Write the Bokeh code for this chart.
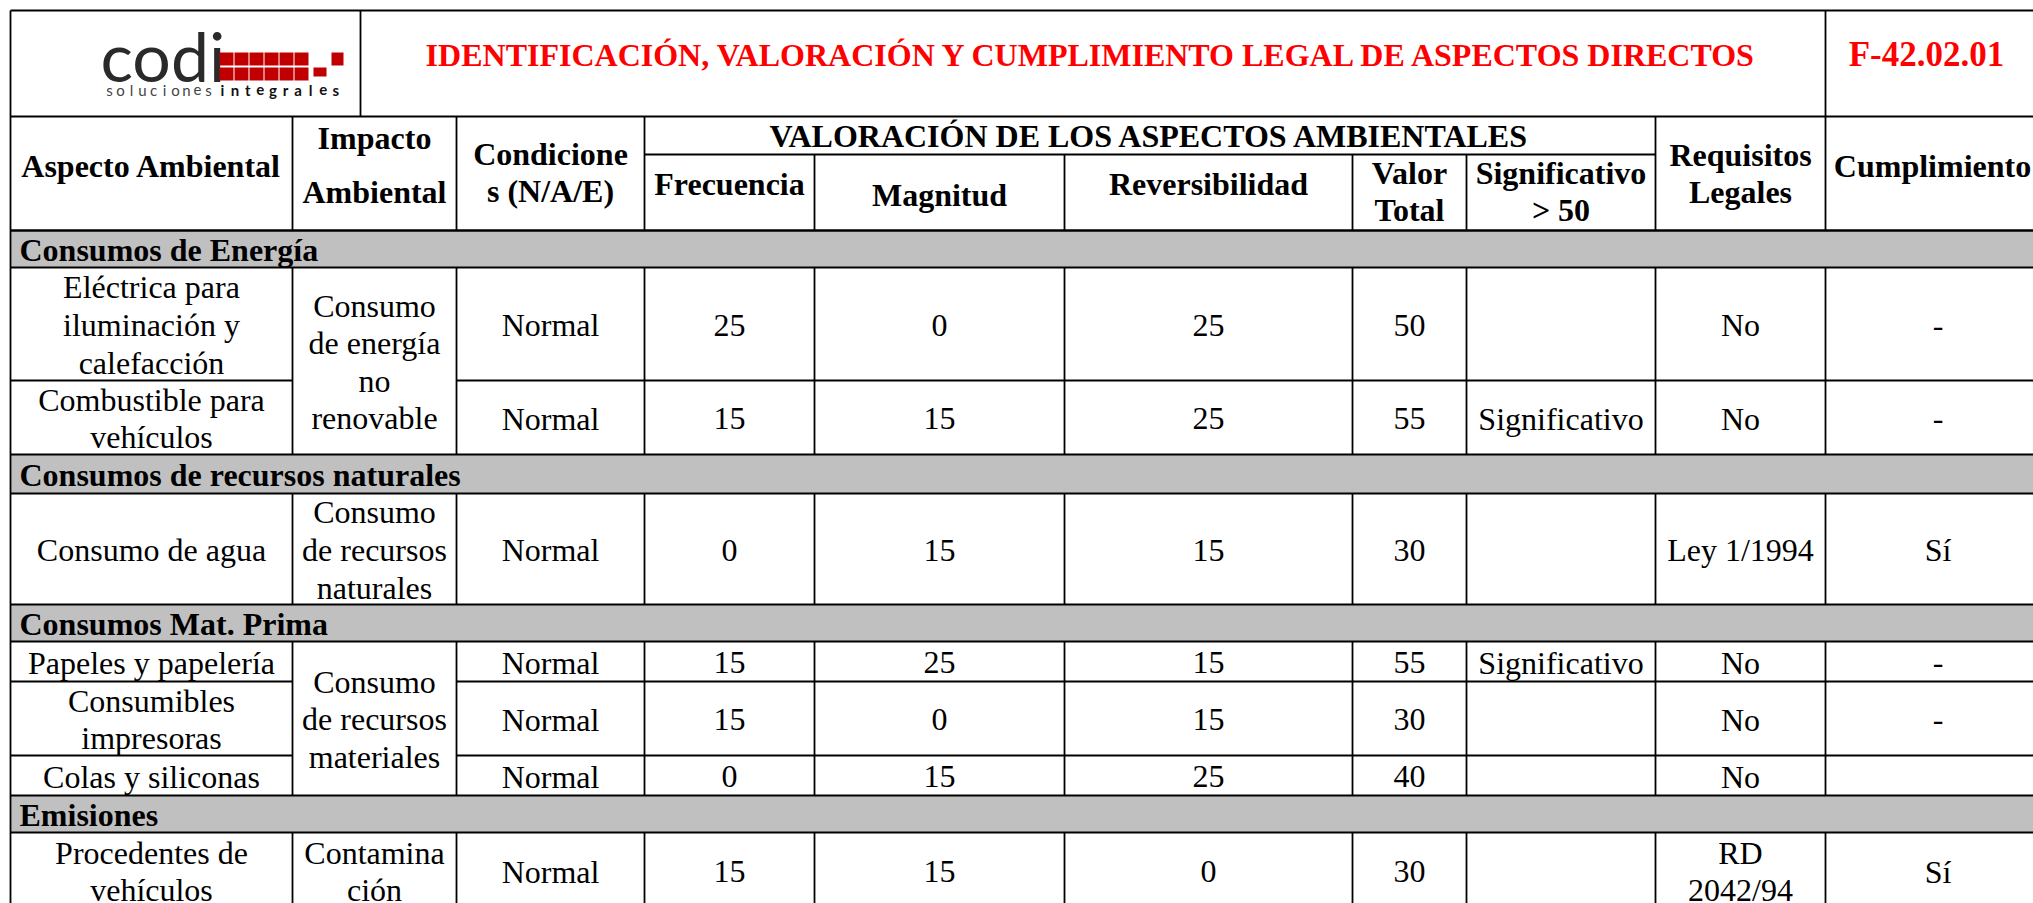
from bokeh.plotting import figure
from bokeh.models import Range1d
from bokeh.core.properties import value
from bokeh.embed import file_html
from bokeh.resources import INLINE

# ---------------- data ----------------
title = "IDENTIFICACIÓN, VALORACIÓN Y CUMPLIMIENTO LEGAL DE ASPECTOS DIRECTOS"
code = "F-42.02.01"

sections = ["Consumos de Energía", "Consumos de recursos naturales",
            "Consumos Mat. Prima", "Emisiones"]
section_rows = [2, 1, 3, 1]
impactos = ["Consumo\nde energía\nno\nrenovable", "Consumo\nde recursos\nnaturales",
            "Consumo\nde recursos\nmateriales", "Contamina\nción"]

aspectos = ["Eléctrica para\niluminación y\ncalefacción", "Combustible para\nvehículos",
            "Consumo de agua", "Papeles y papelería", "Consumibles\nimpresoras",
            "Colas y siliconas", "Procedentes de\nvehículos"]
condiciones = ["Normal", "Normal", "Normal", "Normal", "Normal", "Normal", "Normal"]
frecuencia = [25, 15, 0, 15, 15, 0, 15]
magnitud = [0, 15, 15, 25, 0, 15, 15]
reversibilidad = [25, 25, 15, 15, 15, 25, 0]
valor_total = [50, 55, 30, 55, 30, 40, 30]
significativo = ["", "Significativo", "", "Significativo", "", "", ""]
requisitos = ["No", "No", "Ley 1/1994", "No", "No", "No", "RD\n2042/94"]
cumplimiento = ["-", "-", "Sí", "-", "-", "", "Sí"]

# ---------------- layout ----------------
cols = [10, 292, 456, 644, 814, 1064, 1352, 1466, 1655, 1825, 2050]
TOP, HDR1, SUB, HDR2 = 10, 116, 154, 230
band_h = [37, 39, 37, 37]
row_h = [113, 74, 111, 40, 74, 40, 76]
LOGO_R = 360
RIGHT = cols[-1]

SERIF = value("Liberation Serif")
FS = "32px"
LH = 1.045

p = figure(width=2033, height=903, x_range=Range1d(0, 2033), y_range=Range1d(903, 0),
           output_backend="svg", toolbar_location=None, min_border=0,
           x_axis_location=None, y_axis_location=None)
p.grid.visible = False
p.outline_line_color = None
p.background_fill_color = "white"
p.border_fill_color = "white"

# compute row geometry
bands = []
rows = []
groups = []
y = HDR2
ri = 0
for s, n in enumerate(section_rows):
    bands.append((y, y + band_h[s]))
    y += band_h[s]
    gtop = y
    for k in range(n):
        rows.append((y, y + row_h[ri]))
        y += row_h[ri]
        ri += 1
    groups.append((gtop, y))
BOTTOM = y

# band fills
p.quad(left=[cols[0]] * len(bands), right=[RIGHT] * len(bands),
       top=[b[0] for b in bands], bottom=[b[1] for b in bands],
       fill_color="#C0C0C0", line_color=None)

# ---------------- lines ----------------
hx0, hx1, hy = [], [], []
def hline(x0, x1, yy):
    hx0.append(x0); hx1.append(x1); hy.append(yy)

hline(cols[0], RIGHT, TOP)
hline(cols[0], RIGHT, HDR1)
hline(cols[3], cols[8], SUB)
hline(cols[0], RIGHT, HDR2)
for b in bands:
    hline(cols[0], RIGHT, b[0]); hline(cols[0], RIGHT, b[1])
ri = 0
for s, n in enumerate(section_rows):
    for k in range(n):
        t, b = rows[ri]
        if k < n - 1:
            hline(cols[0], cols[1], b)
            hline(cols[2], RIGHT, b)
        ri += 1
p.segment(x0=hx0, y0=hy, x1=hx1, y1=hy, line_color="black", line_width=2)

vx, vy0, vy1 = [], [], []
def vline(xx, y0, y1):
    vx.append(xx); vy0.append(y0); vy1.append(y1)

vline(cols[0], TOP, BOTTOM)
vline(LOGO_R, TOP, HDR1)
vline(cols[9], TOP, HDR1)
for c in [cols[1], cols[2], cols[3], cols[8], cols[9]]:
    vline(c, HDR1, HDR2)
for c in cols[4:8]:
    vline(c, SUB, HDR2)
for g in groups:
    for c in cols[1:10]:
        vline(c, g[0], g[1])
p.segment(x0=vx, y0=vy0, x1=vx, y1=vy1, line_color="black", line_width=1.8)

# ---------------- logo ----------------
p.text(x=[100], y=[55], text=["codi"], text_font=value("Lato"), text_font_size="68px",
       text_baseline="middle", text_align="left", text_color="#2a2a2a")
bl, br, bt, bb = [], [], [], []
for r, (t0, t1) in enumerate([(52, 65), (67, 80)]):
    for i in range(6):
        bl.append(219 + i * 15); br.append(219 + i * 15 + 14); bt.append(t0); bb.append(t1)
bl += [313, 331]; br += [326, 343]; bt += [67, 52]; bb += [76, 65]
p.quad(left=bl, right=br, top=bt, bottom=bb, fill_color="#C00000", line_color=None)
w1, w2 = "soluciones", "integrales"
p.text(x=[109 + i * 11 for i in range(len(w1))], y=[89] * len(w1), text=list(w1),
       text_font=value("Lato"), text_font_size="15px", text_align="center",
       text_baseline="middle", text_color="#444444")
p.text(x=[222 + i * 12.6 for i in range(len(w2))], y=[89] * len(w2), text=list(w2),
       text_font=value("Lato"), text_font_size="15px", text_font_style="bold",
       text_align="center", text_baseline="middle", text_color="#111111")

# ---------------- title ----------------
p.text(x=[(LOGO_R + cols[9]) / 2], y=[54], text=[title], text_font=SERIF,
       text_font_size="32px", text_font_style="bold", text_color="#FF0000",
       text_align="center", text_baseline="middle")
p.text(x=[1926], y=[54], text=[code], text_font=SERIF, text_font_size="35px",
       text_font_style="bold", text_color="#FF0000", text_align="center",
       text_baseline="middle")

# ---------------- column headers ----------------
def cx(i):
    return (cols[i] + cols[i + 1]) / 2

hdr_x = [cx(0), cx(1), cx(1), cx(2), (cols[3] + cols[8]) / 2, cx(3), cx(4), cx(5),
         cx(6), cx(7), cx(8), 1932]
hdr_y = [165, 137, 191, 172, 135, 183, 194, 183, 191, 191, 173, 165]
hdr_t = ["Aspecto Ambiental", "Impacto", "Ambiental", "Condicione\ns (N/A/E)",
         "VALORACIÓN DE LOS ASPECTOS AMBIENTALES", "Frecuencia", "Magnitud",
         "Reversibilidad", "Valor\nTotal", "Significativo\n> 50", "Requisitos\nLegales",
         "Cumplimiento"]
p.text(x=hdr_x, y=hdr_y, text=hdr_t, text_font=SERIF, text_font_size=FS,
       text_font_style="bold", text_align="center", text_baseline="middle",
       text_line_height=LH, text_color="black")

# section band labels
p.text(x=[19] * len(sections), y=[(b[0] + b[1]) / 2 + 1 for b in bands], text=sections,
       text_font=SERIF, text_font_size=FS, text_font_style="bold", text_align="left",
       text_baseline="middle", text_color="black")

# impacto merged cells
p.text(x=[cx(1)] * len(impactos), y=[(g[0] + g[1]) / 2 + 1 for g in groups], text=impactos,
       text_font=SERIF, text_font_size=FS, text_align="center", text_baseline="middle",
       text_line_height=LH, text_color="black")

# body cells
tx, ty, tt = [], [], []
columns = [aspectos, None, condiciones, frecuencia, magnitud, reversibilidad,
           valor_total, significativo, requisitos, cumplimiento]
for ci, colvals in enumerate(columns):
    if colvals is None:
        continue
    for r, v in enumerate(colvals):
        s = str(v)
        if s == "":
            continue
        tx.append(cx(ci)); ty.append((rows[r][0] + rows[r][1]) / 2 + 1); tt.append(s)
p.text(x=tx, y=ty, text=tt, text_font=SERIF, text_font_size=FS, text_align="center",
       text_baseline="middle", text_line_height=LH, text_color="black")

open("out.html", "w").write(file_html(p, INLINE))
